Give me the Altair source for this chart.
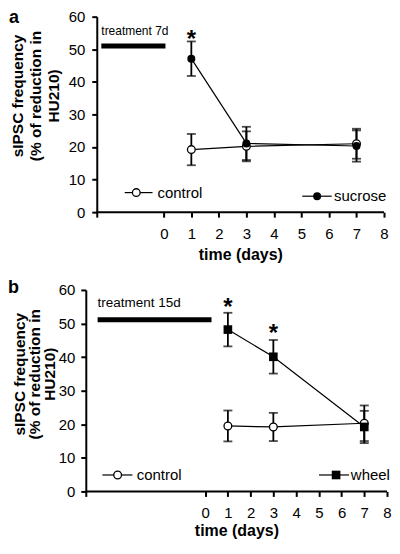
import altair as alt
import pandas as pd

# ---------------- data ----------------
days = [1, 3, 7]

a_control = [19.2, 20.2, 21.0]
a_control_err = [4.8, 4.6, 4.6]
a_sucrose = [47.1, 21.1, 20.3]
a_sucrose_err = [5.3, 5.1, 4.8]

b_control = [19.5, 19.2, 20.3]
b_control_err = [4.6, 4.2, 5.3]
b_wheel = [48.2, 40.1, 19.2]
b_wheel_err = [5.0, 5.0, 4.8]

a_star_days = [1]
a_star_vals = [54.8]
b_star_days = [1, 3]
b_star_vals = [56.5, 48.6]

x_tick_values = [0, 1, 2, 3, 4, 5, 6, 7, 8]
y_tick_values = [0, 10, 20, 30, 40, 50, 60]

a_treat_label = "treatment 7d"
a_treat_start, a_treat_end, a_treat_level = -2.27, 0.06, 51.0
b_treat_label = "treatment 15d"
b_treat_start, b_treat_end, b_treat_level = -4.73, 0.28, 51.1

a_y_title = ["sIPSC frequency", "(% of reduction in", "HU210)"]
b_y_title = ["sIPSC frequency", "(% of  reduction in", "HU210)"]
x_title = "time (days)"

FONT = "Liberation Sans"


def series_df(vals, errs):
    return pd.DataFrame({
        "day": days,
        "v": vals,
        "lo": [v - e for v, e in zip(vals, errs)],
        "hi": [v + e for v, e in zip(vals, errs)],
    })


def panel(label, axis_start, view_start, width, height, s_open, s_fill,
          fill_shape, fill_size, treat, stars, legend, fs, treat_fs, treat_dy,
          ytitle, ytitle_lh, ytitle_x, ytitle_y, label_xy, yoffset, xtitle_y,
          ylab_pad):
    xdom = [view_start, 8]
    xscale = alt.Scale(domain=xdom, nice=False, zero=False)
    yscale = alt.Scale(domain=[0, 60], nice=False)
    xaxis = alt.Axis(values=[axis_start] + x_tick_values, title=x_title,
                     labelExpr="datum.value < 0 ? '' : datum.label",
                     grid=False, labelFont=FONT, labelFontSize=fs,
                     labelColor="black", labelPadding=9,
                     titleFont=FONT, titleFontSize=16, titleFontWeight="bold",
                     titleColor="black", titleBaseline="alphabetic",
                     titleX=((axis_start + 8) / 2 - view_start) / (8 - view_start) * width,
                     titleY=xtitle_y, domain=False,
                     tickColor="black", tickWidth=2, tickSize=5,
                     labelFlush=False)
    yaxis = alt.Axis(values=y_tick_values, title=ytitle, grid=False,
                     labelFont=FONT, labelFontSize=fs, labelColor="black",
                     labelPadding=ylab_pad, titleFont=FONT, titleFontSize=15.5,
                     titleFontWeight="bold", titleColor="black",
                     titleLineHeight=ytitle_lh, titleAngle=270,
                     titleBaseline="alphabetic", titleAlign="center",
                     titleX=ytitle_x, titleY=ytitle_y, offset=yoffset,
                     domainColor="black", domainWidth=2, tickColor="black",
                     tickWidth=2, tickSize=5)

    def X(f):
        return alt.X(f, type="quantitative", scale=xscale, axis=xaxis)

    def Y(f):
        return alt.Y(f, type="quantitative", scale=yscale, axis=yaxis)

    layers = []
    # x axis line, from the y axis to the last tick
    adf = pd.DataFrame({"x0": [axis_start], "x1": [8], "y": [0]})
    layers.append(alt.Chart(adf).mark_rule(color="black", strokeWidth=2)
                  .encode(x=X("x0"), x2="x1", y=Y("y")))
    for df in (s_open, s_fill):
        base = alt.Chart(df)
        layers.append(base.mark_rule(color="black", strokeWidth=1.8).encode(
            x=X("day"), y=Y("lo"), y2="hi"))
        layers.append(base.mark_tick(color="black", orient="horizontal",
                                     size=9, thickness=1.8).encode(
            x=X("day"), y=Y("lo")))
        layers.append(base.mark_tick(color="black", orient="horizontal",
                                     size=9, thickness=1.8).encode(
            x=X("day"), y=Y("hi")))
    for df in (s_open, s_fill):
        layers.append(alt.Chart(df).mark_line(color="black", strokeWidth=1.2)
                      .encode(x=X("day"), y=Y("v")))
    layers.append(alt.Chart(s_open).mark_point(
        shape="circle", filled=True, fill="white", stroke="black",
        strokeWidth=1.3, size=60, opacity=1).encode(x=X("day"), y=Y("v")))
    layers.append(alt.Chart(s_fill).mark_point(
        shape=fill_shape, filled=True, color="black", size=fill_size,
        opacity=1).encode(x=X("day"), y=Y("v")))

    # treatment bar + label
    tdf = pd.DataFrame({"t": [treat[0]], "x0": [treat[1]], "x1": [treat[2]],
                        "y": [treat[3]]})
    layers.append(alt.Chart(tdf).mark_rule(color="black", strokeWidth=5)
                  .encode(x=X("x0"), x2="x1", y=Y("y")))
    layers.append(alt.Chart(tdf).mark_text(
        align="left", baseline="alphabetic", font=FONT, fontSize=treat_fs,
        color="black", dy=treat_dy).encode(x=X("x0"), y=Y("y"), text="t:N"))

    # significance stars
    sdf = pd.DataFrame({"day": stars[0], "y": stars[1], "s": ["*"] * len(stars[0])})
    layers.append(alt.Chart(sdf).mark_text(
        font=FONT, fontSize=24, fontWeight="bold", color="black",
        baseline="alphabetic", dy=13).encode(x=X("day"), y=Y("y"), text="s:N"))

    # in-plot legend
    for item in legend:
        name, lx0, lx1, sx, ly, tx, shp, filled, ssize = item
        ldf = pd.DataFrame({"n": [name], "x0": [lx0], "x1": [lx1], "sx": [sx],
                            "y": [ly], "tx": [tx]})
        layers.append(alt.Chart(ldf).mark_rule(color="black", strokeWidth=1.2)
                      .encode(x=X("x0"), x2="x1", y=Y("y")))
        if filled:
            pm = alt.Chart(ldf).mark_point(shape=shp, filled=True, color="black",
                                           size=ssize, opacity=1)
        else:
            pm = alt.Chart(ldf).mark_point(shape=shp, filled=True, fill="white",
                                           stroke="black", strokeWidth=1.3,
                                           size=ssize, opacity=1)
        layers.append(pm.encode(x=X("sx"), y=Y("y")))
        layers.append(alt.Chart(ldf).mark_text(
            align="left", baseline="middle", font=FONT, fontSize=fs,
            color="black").encode(x=X("tx"), y=Y("y"), text="n:N"))

    # panel letter
    pdf = pd.DataFrame({"p": [label]})
    layers.append(alt.Chart(pdf).mark_text(
        align="left", baseline="alphabetic", font=FONT, fontSize=18,
        fontWeight="bold", color="black").encode(
        x=alt.value(label_xy[0]), y=alt.value(label_xy[1]), text="p:N"))

    return alt.layer(*layers).properties(width=width, height=height)


a = panel(
    "a", -2.44, -2.834, 299, 196,
    series_df(a_control, a_control_err), series_df(a_sucrose, a_sucrose_err),
    "circle", 64,
    (a_treat_label, a_treat_start, a_treat_end, a_treat_level),
    (a_star_days, a_star_vals),
    [("control", -1.42, -0.41, -1.0, 6.0, -0.23, "circle", False, 60),
     ("sucrose", 5.03, 6.1, 5.57, 4.9, 6.18, "circle", True, 64)],
    15, 12, -11, a_y_title, 18, -74, 79, (-77, 6.5), -11, 47, 7)

b = panel(
    "b", -5.25, -5.25, 302, 202,
    series_df(b_control, b_control_err), series_df(b_wheel, b_wheel_err),
    "square", 75,
    (b_treat_label, b_treat_start, b_treat_end, b_treat_level),
    (b_star_days, b_star_vals),
    [("control", -4.52, -3.20, -3.85, 4.9, -3.01, "circle", False, 60),
     ("wheel", 5.01, 6.33, 5.76, 4.9, 6.41, "square", True, 75)],
    15, 13.5, -13, b_y_title, 15, -61, 84, (-78, 3), 0, 44, 6)

chart = alt.concat(a, b, columns=1, spacing=17).properties(
    padding={"left": 0, "top": 0, "right": 0, "bottom": 0}
).configure_view(stroke=None)

chart.save("out.html", embed_options={"renderer": "svg", "actions": False})
